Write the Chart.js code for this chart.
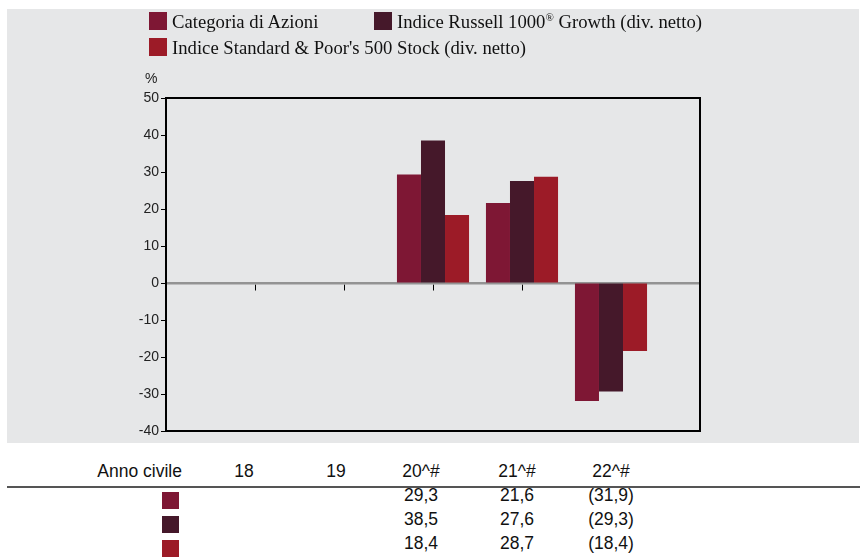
<!DOCTYPE html>
<html lang="it">
<head>
<meta charset="utf-8">
<script src="https://cdn.jsdelivr.net/npm/chart.js@4.4.0/dist/chart.umd.min.js"></script>
<style>
    body {
        margin: 0;
        width: 860px;
        height: 558px;
        background: #fff;
        position: relative;
        overflow: hidden;
        font-family: "Liberation Sans", Arial, sans-serif;
        color: #111;
    }
    #fondo {
        position: absolute;
        left: 7px;
        top: 9px;
        width: 852px;
        height: 434px;
        background: #e6e7e8;
    }
    #grafico { position: absolute; left: 0; top: 0; }
    .caja { position: absolute; width: 18px; height: 18px; }
    .voce {
        position: absolute;
        font-family: "Liberation Serif", "Times New Roman", serif;
        font-size: 18.7px;
        line-height: 20px;
        white-space: nowrap;
    }
    .voce sup { font-size: 11px; vertical-align: 7px; line-height: 0; }
    #percento { position: absolute; left: 138px; top: 61px; font-size: 14px; line-height: 16px; color: #222; }
    #linea { position: absolute; left: 7px; top: 486px; width: 853px; height: 0; border-top: 2px solid #555; }
    .cella {
        position: absolute;
        width: 100px;
        text-align: center;
        font-size: 17.5px;
        line-height: 24px;
        white-space: nowrap;
    }
    .etichetta { position: absolute; right: 678px; font-size: 17.5px; line-height: 24px; white-space: nowrap; }
    .quadro { position: absolute; left: 162px; width: 17px; height: 17px; }
</style>
</head>
<body>
<div id="fondo">
    <canvas id="grafico" width="852" height="434"></canvas>
    <div id="percento">%</div>
</div>
<div id="linea"></div>

<script>
// dati
const anni = ["18", "19", "20^#", "21^#", "22^#"];
const serieNomi = [
    "Categoria di Azioni",
    "Indice Russell 1000® Growth (div. netto)",
    "Indice Standard & Poor's 500 Stock (div. netto)",
];
const categoriaAzioni = [null, null, 29.3, 21.6, -31.9];
const russell1000Growth = [null, null, 38.5, 27.6, -29.3];
const sp500Stock = [null, null, 18.4, 28.7, -18.4];
const tickY = [-40, -30, -20, -10, 0, 10, 20, 30, 40, 50];
const colori = ["#7e1734", "#45182a", "#9c1b27"];

const serieValori = [categoriaAzioni, russell1000Growth, sp500Stock];

// layout della legenda e della tabella
const legendaPos = [[142, 3], [367, 3], [142, 29]];
const colonneCentro = [244, 336, 421, 517, 611];
const righeTop = [483, 507, 531];

function formatoValore(v) {
    if (v === null) return "";
    const s = Math.abs(v).toFixed(1).replace(".", ",");
    return v < 0 ? "(" + s + ")" : s;
}

const fondo = document.getElementById("fondo");
serieNomi.forEach((nome, i) => {
    const caja = document.createElement("div");
    caja.className = "caja";
    caja.style.left = legendaPos[i][0] + "px";
    caja.style.top = legendaPos[i][1] + "px";
    caja.style.background = colori[i];
    fondo.appendChild(caja);

    const voce = document.createElement("div");
    voce.className = "voce";
    voce.style.left = legendaPos[i][0] + 23 + "px";
    voce.style.top = legendaPos[i][1] + "px";
    voce.innerHTML = nome.replace("&", "&amp;").replace("®", "<sup>®</sup>");
    fondo.appendChild(voce);
});

// tabella sotto il grafico
const intestazione = document.createElement("div");
intestazione.className = "etichetta";
intestazione.style.top = "459px";
intestazione.innerText = "Anno civile";
document.body.appendChild(intestazione);

anni.forEach((anno, j) => {
    const c = document.createElement("div");
    c.className = "cella";
    c.style.left = colonneCentro[j] - 50 + "px";
    c.style.top = "459px";
    c.innerText = anno;
    document.body.appendChild(c);
});

serieValori.forEach((valori, i) => {
    const q = document.createElement("div");
    q.className = "quadro";
    q.style.top = righeTop[i] + 9 + "px";
    q.style.background = colori[i];
    document.body.appendChild(q);

    valori.forEach((v, j) => {
        const c = document.createElement("div");
        c.className = "cella";
        c.style.left = colonneCentro[j] - 50 + "px";
        c.style.top = righeTop[i] + "px";
        c.innerText = formatoValore(v);
        document.body.appendChild(c);
    });
});

const marco = {
    id: "marco",
    beforeDatasetsDraw(chart) {
        const { ctx, chartArea: a } = chart;
        ctx.save();
        ctx.strokeStyle = "#000";
        ctx.lineWidth = 2;
        ctx.strokeRect(a.left, a.top, a.right - a.left, a.bottom - a.top);
        ctx.restore();
    },
};

const ctx = document.getElementById("grafico").getContext("2d");
new Chart(ctx, {
    type: "bar",
    data: {
        labels: ["", ...anni, ""],
        datasets: serieValori.map((valori, i) => ({
            label: serieNomi[i],
            data: [null, ...valori, null],
            backgroundColor: colori[i],
            borderWidth: 0,
            categoryPercentage: 0.81,
            barPercentage: 1,
        })),
    },
    options: {
        responsive: false,
        animation: false,
        devicePixelRatio: 1,
        layout: { padding: { left: 119, top: 89, right: 159, bottom: 12 } },
        plugins: { legend: { display: false }, tooltip: { enabled: false } },
        scales: {
            x: {
                type: "category",
                offset: false,
                position: { y: 0 },
                grid: {
                    display: true,
                    offset: false,
                    drawOnChartArea: false,
                    drawTicks: true,
                    tickLength: 6,
                    color: "#000",
                    lineWidth: 1,
                },
                border: { display: true, color: "#939393", width: 2.5, dash: [7, 2, 2, 1, 2, 1] },
                ticks: { display: false },
            },
            y: {
                min: tickY[0],
                max: tickY[tickY.length - 1],
                ticks: {
                    stepSize: 10,
                    padding: 2,
                    color: "#222",
                    font: { family: "'Liberation Sans', Arial", size: 14 },
                },
                grid: {
                    display: true,
                    drawOnChartArea: false,
                    drawTicks: true,
                    tickLength: 5,
                    color: "#000",
                },
                border: { display: true, color: "#000", width: 2 },
                afterFit(scale) {
                    scale.width = 40;
                },
            },
        },
    },
    plugins: [marco],
});
</script>
</body>
</html>
